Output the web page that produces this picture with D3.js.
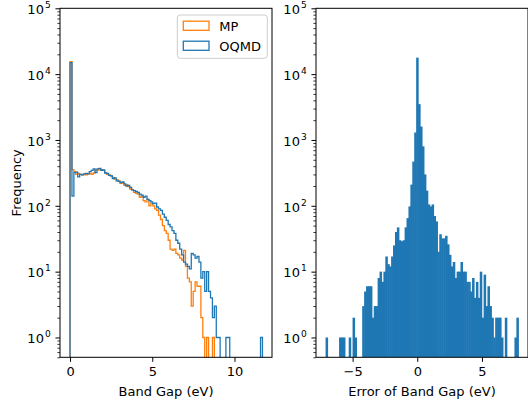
<!DOCTYPE html>
<html><head><meta charset="utf-8">
<script src="https://cdn.jsdelivr.net/npm/d3@7"></script>
<style>body{margin:0;background:#fff} text{font-family:"DejaVu Sans",sans-serif;}</style>
</head><body><svg id="c" width="528" height="406"></svg>
<script>
// ---------- data ----------
const gapRange = [0, 11.7];           // band gap bin range (eV), 100 bins
const mpCounts = [15500,355,330,300,310,300,295,300,295,305,310,300,315,355,350,365,355,345,320,300,
  295,285,270,255,250,240,220,225,205,210,195,180,175,160,155,150,
  135,140,120,115,125,100,110,100,90,85,72,62,50,42,38,30,22,21,22,19,18,16,15,21,12,8,7,3,5,7,6,6,2,1,0,1,0,0,1,
  0,0,0,0,0,0,0,0,0,0,0,0,0,0,0,0,0,0,0,0,0,0,0,0,0];
const oqmdCounts = [15000,140,320,325,275,300,295,305,310,305,330,345,365,320,365,370,345,350,315,310,
  290,285,260,265,240,235,225,230,215,200,205,190,175,170,165,160,
  150,145,135,140,125,120,115,108,110,96,90,85,75,67,60,52,48,42,38,30,27,22,18,14,13,12,11,19,18,16,17,14,8,10,5,10,5,4,2,3,1,1,
  0,0,0,1,1,0,0,0,0,0,0,0,0,0,0,0,0,0,0,0,0,1];
const errRange = [-7.09, 7.81];        // error bin range (eV), 100 bins
const errCounts = [1,0,0,0,0,0,0,1,1,1,0,0,1,0,2,1,0,0,0,3,
  5,6,6,6,2,3,3,8,10,7,10,17,13,12,17,25,40,47,30,29,
  30,47,65,98,210,470,1300,17800,3500,1600,800,300,170,105,98,105,70,58,20,37,
  32,32,35,26,18,12,14,8,10,10,14,10,10,7,7,5,8,4,7,4,
  10,2,9,3,6,3,2,1,2,2,2,1,0,2,0,0,0,0,1,2];
const gapTicks = [0, 5, 10];
const errTicks = [-5, 0, 5];
const yTickExps = [0, 1, 2, 3, 4, 5];
const seriesNames = ["MP", "OQMD"];
const seriesColors = ["#ff7f0e", "#1f77b4"];
const xLabels = ["Band Gap (eV)", "Error of Band Gap (eV)"];
const yLabel = "Frequency";

// ---------- layout ----------
const svg = d3.select("#c");
const FS = 13, TL = 4.55, TP = 4.55;
const yTop = 8.3, yBot = 357.3;
const L = {x0: 60, x1: 272}, R = {x0: 316, x1: 528};
const xL = d3.scaleLinear([-0.61, 12.28], [L.x0, L.x1]);
const xR = d3.scaleLinear([-7.83, 8.56], [R.x0, R.x1]);
const y = d3.scaleLog([0.5, 1e5], [yBot, yTop]);

function edges(range, n) {
  return d3.range(n + 1).map(i => range[0] + i * (range[1] - range[0]) / n);
}
const defs = svg.append("defs");
[["clipL", L], ["clipR", R]].forEach(([id, p]) => {
  defs.append("clipPath").attr("id", id).append("rect")
    .attr("x", p.x0).attr("y", yTop).attr("width", p.x1 - p.x0).attr("height", yBot - yTop);
});

const yv = v => v > 0 ? y(v) : yBot + 20;

// Left: step histograms
const gEdges = edges(gapRange, mpCounts.length);
const gL = svg.append("g").attr("clip-path", "url(#clipL)");
[mpCounts, oqmdCounts].forEach((counts, si) => {
  const pts = [[xL(gEdges[0]), yBot + 20]];
  counts.forEach((c, i) => {
    pts.push([xL(gEdges[i]), yv(c)]);
    pts.push([xL(gEdges[i + 1]), yv(c)]);
  });
  pts.push([xL(gEdges[counts.length]), yBot + 20]);
  gL.append("path").attr("d", d3.line()(pts)).attr("fill", "none")
    .attr("stroke", seriesColors[si]).attr("stroke-width", 1.3).attr("stroke-linejoin", "miter");
});

// Right: filled bars
const eEdges = edges(errRange, errCounts.length);
const gR = svg.append("g").attr("clip-path", "url(#clipR)");
gR.selectAll("rect").data(errCounts.map((c, i) => ({c, i})).filter(d => d.c > 0)).join("rect")
  .attr("x", d => xR(eEdges[d.i]))
  .attr("width", d => xR(eEdges[d.i + 1]) - xR(eEdges[d.i]) + 0.6)
  .attr("y", d => y(d.c))
  .attr("height", d => yBot - y(d.c))
  .attr("fill", "#1f77b4");

// ---------- axes ----------
const minorVals = [];
for (let e = -1; e <= 4; e++) for (let m = 2; m <= 9; m++) {
  const v = m * Math.pow(10, e);
  if (v >= 0.5 && v <= 1e5) minorVals.push(v);
}
function styleAxis(g) {
  g.select(".domain").remove();
  g.selectAll("line").attr("stroke", "#000").attr("stroke-width", 1);
  g.selectAll("text").attr("font-size", FS).attr("font-family", "DejaVu Sans").attr("fill", "#000");
}
[[L, xL, gapTicks], [R, xR, errTicks]].forEach(([p, xs, ticks], k) => {
  const gx = svg.append("g").attr("transform", `translate(0,${yBot})`)
    .call(d3.axisBottom(xs).tickValues(ticks).tickSize(TL).tickPadding(TP).tickSizeOuter(0)
      .tickFormat(d => d < 0 ? "\u2212" + Math.abs(d) : String(d)));
  styleAxis(gx);
  const gm = svg.append("g").attr("transform", `translate(${p.x0},0)`)
    .call(d3.axisLeft(y).tickValues(minorVals).tickSize(2.6).tickFormat("").tickSizeOuter(0));
  styleAxis(gm);
  gm.selectAll("line").attr("stroke-width", 0.78);
  const gy = svg.append("g").attr("transform", `translate(${p.x0},0)`)
    .call(d3.axisLeft(y).tickValues(yTickExps.map(e => Math.pow(10, e))).tickSize(TL).tickPadding(TP).tickSizeOuter(0).tickFormat(""));
  styleAxis(gy);
  gy.selectAll(".tick").each(function(d, i) {
    d3.select(this).append("text").attr("x", -(TL + TP + 7)).attr("y", 5.3)
      .attr("text-anchor", "end").attr("font-size", FS).attr("fill", "#000").text("10");
    d3.select(this).append("text").attr("x", -(TL + TP)).attr("y", -0.8)
      .attr("text-anchor", "end").attr("font-size", FS * 0.7).attr("fill", "#000")
      .text(String(yTickExps[i]));
  });
  svg.append("rect").attr("x", p.x0).attr("y", yTop).attr("width", p.x1 - p.x0).attr("height", yBot - yTop)
    .attr("fill", "none").attr("stroke", "#000").attr("stroke-width", 1);
  svg.append("text").attr("x", (p.x0 + p.x1) / 2).attr("y", 395.5)
    .attr("text-anchor", "middle").attr("font-size", FS).text(xLabels[k]);
});
svg.append("text").attr("transform", `translate(20.5,${(yTop + yBot) / 2}) rotate(-90)`)
  .attr("text-anchor", "middle").attr("font-size", FS).text(yLabel);

// ---------- legend ----------
const lg = svg.append("g");
lg.append("rect").attr("x", 177.3).attr("y", 15).attr("width", 90).attr("height", 43.3).attr("rx", 3)
  .attr("fill", "#fff").attr("fill-opacity", 0.8).attr("stroke", "#cccccc").attr("stroke-width", 1);
seriesNames.forEach((n, i) => {
  lg.append("rect").attr("x", 183.3).attr("y", 21.2 + i * 20).attr("width", 25.7).attr("height", 9.1)
    .attr("fill", "none").attr("stroke", seriesColors[i]).attr("stroke-width", 1.3);
  lg.append("text").attr("x", 219.3).attr("y", 30.5 + i * 20).attr("font-size", FS).text(n);
});
</script></body></html>
